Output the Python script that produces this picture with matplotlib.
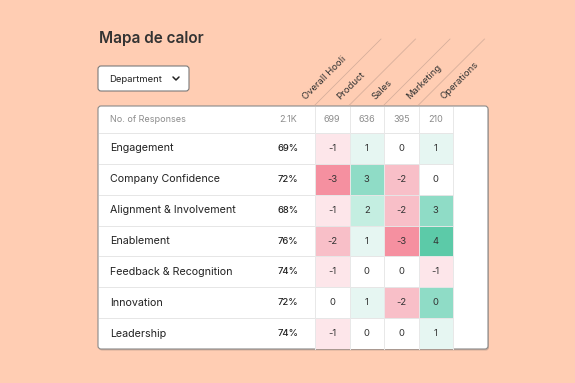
import numpy as np
import matplotlib.pyplot as plt
from matplotlib.patches import FancyBboxPatch
from matplotlib.colors import ListedColormap, BoundaryNorm

plt.rcParams['font.family'] = ['Inter', 'DejaVu Sans']

# Данные
title = 'Mapa de calor'
dropdown = 'Department'
columns = ['Overall Hooli', 'Product', 'Sales', 'Marketing', 'Operations']
rows = ['Engagement', 'Company Confidence', 'Alignment & Involvement',
        'Enablement', 'Feedback & Recognition', 'Innovation', 'Leadership']
overall = [69, 72, 68, 76, 74, 72, 74]
overall_n = '2.1K'
dept_n = [699, 636, 395, 210]
scores = [[-1, 1, 0, 1],
          [-3, 3, -2, 0],
          [-1, 2, -2, 3],
          [-2, 1, -3, 4],
          [-1, 0, 0, -1],
          [0, 1, -2, 0],
          [-1, 0, 0, 1]]
# оттенок ячейки (в оригинале не всегда совпадает со значением)
shade = [[-1, 1, 0, 1],
         [-3, 3, -2, 0],
         [-1, 2, -2, 3],
         [-2, 1, -3, 4],
         [-1, 0, 0, -1],
         [0, 1, -2, 3],
         [-1, 0, 0, 1]]

# Оформление
bg = '#ffcdb3'
level_colors = ['#f590a0', '#f8bfc8', '#fde6ea', '#ffffff',
                '#e6f6f2', '#c4eee1', '#8fdcc6', '#5ccaa8']

fig = plt.figure(figsize=(5.75, 3.83), dpi=100)
fig.patch.set_facecolor(bg)
ax = fig.add_axes([0, 0, 1, 1])
ax.set_xlim(0, 575)
ax.set_ylim(383, 0)
ax.axis('off')

# Заголовок
ax.text(99, 38, title, fontsize=11, fontweight='semibold', color='#333333',
        va='center', ha='left')

# Выпадающий список
ax.add_patch(FancyBboxPatch((98, 66), 91, 25, boxstyle='round,pad=0,rounding_size=3',
                            facecolor='white', edgecolor='#7a7a7a', lw=0.8))
ax.text(109, 79, dropdown, fontsize=6.8, color='#222222', va='center', ha='left')
ax.plot([173, 176, 179], [77, 80, 77], color='#222222', lw=1.1,
        solid_capstyle='round', solid_joinstyle='round')

# Таблица
left, right = 98, 488
top, bottom = 106, 349
head_h = 27
row_h = (bottom - top - head_h) / len(rows)
col_x = np.array([315, 349.5, 384, 418.5, 453])
row_y = top + head_h + row_h * np.arange(len(rows) + 1)

ax.add_patch(FancyBboxPatch((left + 1, top + 1.5), right - left, bottom - top,
                            boxstyle='round,pad=0,rounding_size=3',
                            facecolor='#b89a8a', edgecolor='none', alpha=0.6))
ax.add_patch(FancyBboxPatch((left, top), right - left, bottom - top,
                            boxstyle='round,pad=0,rounding_size=3',
                            facecolor='white', edgecolor='#8a8a8a', lw=0.8))

cmap = ListedColormap(level_colors)
norm = BoundaryNorm(np.arange(-3.5, 5.5, 1), cmap.N)
ax.pcolormesh(col_x, row_y, np.array(shade), cmap=cmap, norm=norm,
              edgecolors='none', zorder=2)

# Линии сетки
for y in np.concatenate([[top + head_h], row_y[1:-1]]):
    ax.plot([left + 0.5, col_x[-1]], [y, y], color='#e6e6e6', lw=0.7, zorder=3)
for x in col_x:
    ax.plot([x, x], [top + 0.5, bottom - 0.5], color='#e8e8e8', lw=0.7, zorder=3)

# Диагональные линии заголовков
for x in col_x[:-1]:
    ax.plot([x, x + 66], [top - 1, top - 67], color='#d4ad9a', lw=0.55, zorder=1)

# Подписи столбцов
for i, name in enumerate(columns):
    ax.text(306 + 34.5 * i, 100, name, rotation=45, rotation_mode='anchor',
            ha='left', va='baseline', fontsize=6.8, color='#333333')

# Строка с числом ответов
hy = top + head_h / 2
ax.text(110, hy, 'No. of Responses', fontsize=6.5, color='#8c8c8c', va='center')
ax.text(288, hy, overall_n, fontsize=6.5, color='#8c8c8c', va='center', ha='center')
centers = (col_x[:-1] + col_x[1:]) / 2
for cx, n in zip(centers, dept_n):
    ax.text(cx, hy, str(n), fontsize=6.5, color='#8c8c8c', va='center', ha='center')

# Строки
for r, name in enumerate(rows):
    cy = (row_y[r] + row_y[r + 1]) / 2
    ax.text(110, cy, name, fontsize=7.7, color='#222222', va='center', ha='left')
    ax.text(288, cy, f'{overall[r]}%', fontsize=6.8, color='#222222',
            fontweight='medium', va='center', ha='center')
    for c, cx in enumerate(centers):
        ax.text(cx, cy, str(scores[r][c]), fontsize=6.8, color='#333333',
                va='center', ha='center', zorder=4)

fig.savefig('out.png', dpi=100, facecolor=bg)
